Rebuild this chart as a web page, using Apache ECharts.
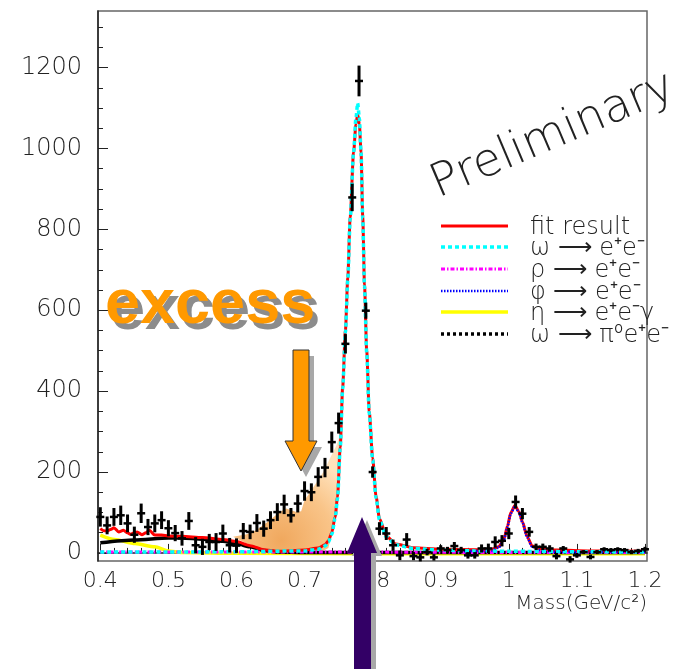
<!DOCTYPE html>
<html>
<head>
<meta charset="utf-8">
<script src="https://cdn.jsdelivr.net/npm/echarts@6/dist/echarts.min.js"></script>
<style>
  html, body { margin: 0; padding: 0; background: #fff; }
  #chart { width: 681px; height: 669px; }
</style>
</head>
<body>
<div id="chart"></div>
<script>
// ---- data ----
const binCenters = [
  0.40, 0.41, 0.42, 0.43, 0.44, 0.45, 0.46, 0.47, 0.48, 0.49,
  0.50, 0.51, 0.52, 0.53, 0.54, 0.55, 0.56, 0.57, 0.58, 0.59,
  0.60, 0.61, 0.62, 0.63, 0.64, 0.65, 0.66, 0.67, 0.68, 0.69,
  0.70, 0.71, 0.72, 0.73, 0.74, 0.75, 0.76, 0.77, 0.78, 0.79,
  0.80, 0.81, 0.82, 0.83, 0.84, 0.85, 0.86, 0.87, 0.88, 0.89,
  0.90, 0.91, 0.92, 0.93, 0.94, 0.95, 0.96, 0.97, 0.98, 0.99,
  1.00, 1.01, 1.02, 1.03, 1.04, 1.05, 1.06, 1.07, 1.08, 1.09,
  1.10, 1.11, 1.12, 1.13, 1.14, 1.15, 1.16, 1.17, 1.18, 1.19, 1.20
]
const counts = [
  89, 68, 89, 93, 73, 45, 98, 64, 73, 81,
  61, 49, 36, 79, 19, 15, 27, 27, 48, 19,
  18, 54, 52, 74, 60, 81, 101, 120, 93, 122,
  153, 150, 188, 211, 274, 321, 517, 879, 1167, 599,
  200, 60, 48, 19, -6, 33, -8, -11, 2, -11,
  11, 7, 17, 7, -6, -6, 11, 11, 27, 30,
  48, 126, 97, 52, 15, 15, 11, -8, 11, -16,
  -6, 2, -10, 2, 9, 7, 9, 7, 2, 5, 9
]
const errors = [
  24, 22, 22, 24, 22, 20, 24, 20, 22, 22,
  20, 20, 18, 22, 20, 20, 20, 22, 22, 18,
  18, 20, 18, 22, 20, 22, 22, 24, 18, 22,
  24, 22, 24, 24, 26, 26, 24, 34, 38, 20,
  14, 16, 16, 14, 12, 16, 10, 10, 8, 8,
  8, 8, 10, 8, 8, 8, 10, 12, 14, 14,
  14, 16, 14, 12, 8, 8, 8, 8, 6, 8,
  6, 5, 6, 5, 5, 5, 5, 5, 5, 5, 6
]

// fit components [mass, entries]
const fitResult = [
  [0.40, 60], [0.405, 55], [0.41, 54], [0.415, 58], [0.42, 62], [0.427, 52], [0.434, 56],
  [0.44, 50], [0.444, 46], [0.45, 50], [0.454, 52], [0.461, 45], [0.467, 50], [0.472, 56],
  [0.48, 44], [0.49, 44], [0.50, 42], [0.52, 41], [0.55, 38], [0.58, 33], [0.60, 28],
  [0.62, 18], [0.64, 8], [0.66, 4], [0.70, 7], [0.72, 12], [0.73, 20], [0.735, 30],
  [0.74, 50], [0.745, 90], [0.7484, 138], [0.7524, 262], [0.756, 410], [0.760, 550],
  [0.7635, 680], [0.767, 830], [0.772, 990], [0.7755, 1060], [0.778, 1085], [0.7805, 1060],
  [0.783, 990], [0.7855, 830], [0.788, 665], [0.7913, 500], [0.795, 350], [0.80, 235],
  [0.805, 140], [0.81, 85], [0.82, 42], [0.834, 22], [0.86, 13], [0.90, 9], [0.95, 8],
  [0.975, 9], [0.985, 15], [0.993, 35], [0.998, 66], [1.003, 100], [1.009, 117],
  [1.015, 102], [1.02, 77], [1.027, 40], [1.034, 18], [1.044, 10], [1.07, 7], [1.12, 5], [1.20, 4]
]
const omegaEE = [
  [0.40, 2], [0.50, 2], [0.60, 3], [0.70, 5], [0.72, 9], [0.73, 17], [0.735, 27], [0.74, 46],
  [0.745, 86], [0.7484, 134], [0.7524, 258], [0.756, 405], [0.760, 545], [0.7635, 675],
  [0.767, 825], [0.772, 990], [0.7755, 1075], [0.778, 1112], [0.7805, 1075], [0.783, 990],
  [0.7855, 825], [0.788, 660], [0.7913, 495], [0.795, 345], [0.80, 230], [0.805, 136],
  [0.81, 82], [0.82, 40], [0.834, 20], [0.86, 11], [0.90, 7], [0.95, 5], [1.00, 4], [1.10, 3], [1.20, 2]
]
const rhoEE = [[0.40, 2], [0.60, 2], [0.80, 2], [1.00, 1], [1.20, 1]]
const phiEE = [
  [0.93, 4], [0.95, 5], [0.975, 6], [0.985, 13], [0.993, 33], [0.998, 64], [1.003, 98],
  [1.009, 115], [1.015, 100], [1.02, 75], [1.027, 38], [1.034, 16], [1.044, 7], [1.07, 3],
  [1.12, 2], [1.20, 2]
]
const etaDalitz = [
  [0.40, 44], [0.421, 33], [0.451, 23], [0.48, 15], [0.50, 5], [0.52, 1], [0.60, -1],
  [0.80, -2], [1.20, -2]
]
const omegaDalitz = [
  [0.40, 25], [0.45, 32], [0.50, 37], [0.52, 37], [0.55, 34], [0.58, 29], [0.60, 23],
  [0.62, 15], [0.64, 6], [0.66, 2], [0.70, 1], [1.20, 1]
]

// shaded excess region: upper edge and lower edge, left to right
const excessTop = [
  [0.595, 40], [0.615, 46], [0.629, 56], [0.649, 81], [0.6635, 101], [0.673, 110],
  [0.688, 101], [0.695, 103], [0.700, 130], [0.710, 155], [0.720, 180], [0.729, 204],
  [0.737, 233], [0.747, 266], [0.753, 298]
]
const excessBottom = [
  [0.595, 40], [0.615, 23], [0.639, 7], [0.654, 2], [0.70, 2], [0.725, 3], [0.735, 12],
  [0.74, 46], [0.745, 86], [0.7484, 134]
]

const xMajor = [0.4, 0.5, 0.6, 0.7, 0.8, 0.9, 1.0, 1.1, 1.2]
const xTickLabels = ['0.4', '0.5', '0.6', '0.7', '0.8', '0.9', '1', '1.1', '1.2']
const yMajor = [0, 200, 400, 600, 800, 1000, 1200]
const yTickLabels = ['0', '200', '400', '600', '800', '1000', '1200']

const xMinor = []
for (let i = 0; i <= 40; i++) xMinor.push(+(0.4 + i * 0.02).toFixed(2))
const yMinor = []
for (let v = 0; v <= 1300; v += 50) yMinor.push(v)

const FONT = '"DejaVu Sans", sans-serif'
const X_MIN = 0.3966, X_MAX = 1.203
const Y_MIN = -20, Y_MAX = 1340

const legendRows = [
  { y: 226, text: 'fit result', color: '#ff0000', width: 3, dash: null },
  { y: 247, text: 'ω ⟶ e⁺e⁻', color: '#00ffff', width: 3.5, dash: [4, 3] },
  { y: 269, text: 'ρ ⟶ e⁺e⁻', color: '#ff00ff', width: 3, dash: [4, 2, 1.5, 2] },
  { y: 291, text: 'φ ⟶ e⁺e⁻', color: '#0000ff', width: 2.5, dash: [1.5, 1.5] },
  { y: 312, text: 'η ⟶ e⁺e⁻γ', color: '#ffff00', width: 3.5, dash: null },
  { y: 334, text: 'ω ⟶ π⁰e⁺e⁻', color: '#000000', width: 3.5, dash: [3, 3] }
]

const chart = echarts.init(document.getElementById('chart'), null, { renderer: 'canvas' })

const curve = (name, data, color, width, dash, z) => ({
  name,
  type: 'line',
  data,
  z,
  showSymbol: false,
  symbol: 'none',
  smooth: 0.25,
  smoothMonotone: 'x',
  silent: true,
  lineStyle: { color, width, type: dash || 'solid' }
})

const lookup = (values, labels) => v => {
  const i = values.findIndex(m => Math.abs(m - v) < 1e-6)
  return i < 0 ? '' : labels[i]
}

const option = {
  animation: false,
  backgroundColor: '#fff',
  grid: {
    left: 98, top: 11, width: 549, height: 550,
    show: true, borderColor: '#666', borderWidth: 1.5,
    containLabel: false, outerBoundsMode: 'none'
  },
  xAxis: [
    {
      type: 'value', min: X_MIN, max: X_MAX, position: 'bottom',
      axisLine: { lineStyle: { color: '#222', width: 1.5 } },
      axisTick: { inside: true, length: 9, customValues: xMajor, lineStyle: { color: '#222' } },
      axisLabel: {
        customValues: xMajor, formatter: lookup(xMajor, xTickLabels),
        fontFamily: FONT, fontWeight: 200, fontSize: 22, color: '#222', margin: 9
      },
      splitLine: { show: false }
    },
    {
      type: 'value', min: X_MIN, max: X_MAX, position: 'bottom',
      axisLine: { show: false },
      axisTick: { inside: true, length: 5, customValues: xMinor, lineStyle: { color: '#222' } },
      axisLabel: { show: false },
      splitLine: { show: false }
    }
  ],
  yAxis: [
    {
      type: 'value', min: Y_MIN, max: Y_MAX, position: 'left',
      axisLine: { show: true, lineStyle: { color: '#222', width: 1.5 } },
      axisTick: { show: true, inside: true, length: 10, customValues: yMajor, lineStyle: { color: '#222' } },
      axisLabel: {
        customValues: yMajor, formatter: lookup(yMajor, yTickLabels),
        fontFamily: FONT, fontWeight: 200, fontSize: 24, color: '#222', margin: 16
      },
      splitLine: { show: false }
    },
    {
      type: 'value', min: Y_MIN, max: Y_MAX, position: 'left',
      axisLine: { show: false },
      axisTick: { show: true, inside: true, length: 5, customValues: yMinor, lineStyle: { color: '#222' } },
      axisLabel: { show: false },
      splitLine: { show: false }
    }
  ],
  series: [
    {
      name: 'excess',
      type: 'custom',
      z: 1,
      silent: true,
      data: [0],
      renderItem: (params, api) => {
        const pts = excessTop.concat(excessBottom.slice().reverse()).map(p => api.coord(p))
        return {
          type: 'polygon',
          shape: { points: pts },
          style: {
            fill: {
              type: 'radial', x: 0.45, y: 0.9, r: 0.8,
              colorStops: [
                { offset: 0, color: '#f0a85e' },
                { offset: 0.6, color: '#f9c488' },
                { offset: 1, color: '#ffe2bc' }
              ]
            }
          }
        }
      }
    },
    curve('η → e+e-γ', etaDalitz, '#ffff00', 3.5, null, 2),
    curve('ω → π0e+e-', omegaDalitz, '#000000', 3.5, null, 3),
    curve('ρ → e+e-', rhoEE, '#ff00ff', 3, [4, 2, 1.5, 2], 3),
    curve('fit result', fitResult, '#ff0000', 3, null, 4),
    curve('φ → e+e-', phiEE, '#0000ff', 2.5, [1.5, 1.5], 5),
    curve('ω → e+e-', omegaEE, '#00ffff', 3.5, [4, 3], 5),
    {
      name: 'data',
      type: 'custom',
      z: 6,
      silent: true,
      encode: { x: 0, y: 1 },
      data: binCenters.map((m, i) => [m, counts[i], errors[i]]),
      renderItem: (params, api) => {
        const x = api.value(0), y = api.value(1), e = api.value(2)
        const c = api.coord([x, y])
        const hi = api.coord([x, y + e])
        const lo = api.coord([x, y - e])
        return {
          type: 'group',
          children: [
            { type: 'line', shape: { x1: c[0], y1: hi[1], x2: c[0], y2: lo[1] }, style: { stroke: '#000', lineWidth: 3 } },
            { type: 'line', shape: { x1: c[0] - 4, y1: c[1], x2: c[0] + 4, y2: c[1] }, style: { stroke: '#000', lineWidth: 2.5 } }
          ]
        }
      }
    }
  ],
  graphic: [
    // axis title
    {
      type: 'text', z: 50, x: 647, y: 604,
      style: { text: 'Mass(GeV/c²)', font: `200 20px ${FONT}`, fill: '#222', align: 'right', verticalAlign: 'middle' }
    },
    // legend
    ...legendRows.map(r => ({
      type: 'line', z: 50,
      shape: { x1: 441, y1: r.y, x2: 508, y2: r.y },
      style: { stroke: r.color, lineWidth: r.width, lineDash: r.dash }
    })),
    ...legendRows.map(r => ({
      type: 'text', z: 50, x: 530, y: r.y + 2,
      style: { text: r.text, font: `200 24px ${FONT}`, fill: '#222', verticalAlign: 'middle' }
    })),
    // watermark
    {
      type: 'text', z: 50, x: 553, y: 136, rotation: 23 * Math.PI / 180,
      style: { text: 'Preliminary', font: `200 46px ${FONT}`, fill: '#222', align: 'center', verticalAlign: 'middle' }
    },
    // "excess" label with shadow
    {
      type: 'text', z: 50, x: 110, y: 312,
      style: { text: 'excess', font: 'bold 63px "Liberation Sans", Arial, sans-serif', fill: '#8c8c8c', verticalAlign: 'middle' }
    },
    {
      type: 'text', z: 51, x: 105, y: 306,
      style: { text: 'excess', font: 'bold 63px "Liberation Sans", Arial, sans-serif', fill: '#ff9900', verticalAlign: 'middle' }
    },
    // orange arrow with shadow
    {
      type: 'polygon', z: 50,
      shape: { points: [[298, 356], [314, 356], [314, 447], [322, 447], [306, 477], [290, 447], [298, 447]] },
      style: { fill: '#a8a8a8' }
    },
    {
      type: 'polygon', z: 51,
      shape: { points: [[293, 350], [309, 350], [309, 441], [317, 441], [301, 471], [285, 441], [293, 441]] },
      style: { fill: '#ff9900', stroke: '#333', lineWidth: 1 }
    },
    // purple arrow with shadow
    {
      type: 'polygon', z: 50,
      shape: { points: [[367, 520], [382, 556], [376, 556], [376, 669], [359, 669], [359, 556], [352, 556]] },
      style: { fill: '#a8a8a8' }
    },
    {
      type: 'polygon', z: 51,
      shape: { points: [[362, 517], [377, 553], [371, 553], [371, 669], [354, 669], [354, 553], [347, 553]] },
      style: { fill: '#330066' }
    }
  ]
}

chart.setOption(option)
window.addEventListener('resize', () => chart.resize())
</script>
</body>
</html>
